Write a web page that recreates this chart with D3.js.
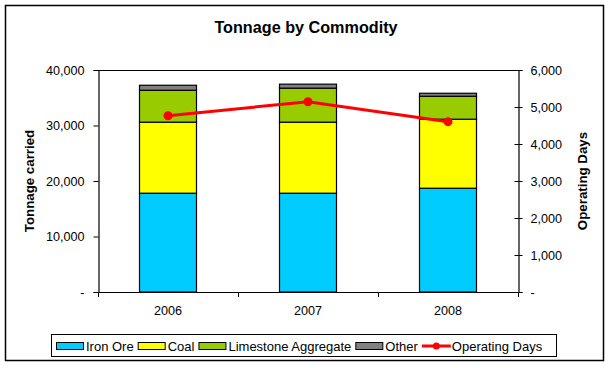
<!DOCTYPE html>
<html><head><meta charset="utf-8">
<script src="https://cdn.jsdelivr.net/npm/d3@7"></script>
<style>body{margin:0;background:#fff}svg{display:block}text{font-family:"Liberation Sans",Arial,sans-serif}</style>
</head><body><svg id="c" width="612" height="368"></svg>
<script>
const years = ["2006","2007","2008"];
const ironOre = [17800, 17800, 18700];
const coal = [12800, 12800, 12430];
const limestone = [5750, 6130, 4140];
const other = [900, 720, 540];
const operatingDays = [4765, 5143, 4603];
const leftTicks = [0,10000,20000,30000,40000];
const rightTicks = [0,1000,2000,3000,4000,5000,6000];
const seriesNames = ["Iron Ore","Coal","Limestone Aggregate","Other"];
const seriesColors = ["#00CCFF","#FFFF00","#99CC00","#808080"];

const svg = d3.select("#c");
const L=98,R=518,T=70,B=292;
svg.append("rect").attr("x",5.5).attr("y",5.5).attr("width",598).attr("height",355).attr("fill","#fff").attr("stroke","#000").attr("stroke-width",1.5);

svg.append("text").attr("x",306).attr("y",33).attr("text-anchor","middle").attr("font-weight","bold").attr("font-size",16.2).text("Tonnage by Commodity");

const x = d3.scaleBand().domain(years).range([L,R]).paddingInner(0.59).paddingOuter(0.295);
const y = d3.scaleLinear().domain([0,40000]).range([B,T]);
const y2 = d3.scaleLinear().domain([0,6000]).range([B,T]);

const fmt = v => v===0 ? "-" : d3.format(",")(v);

svg.append("line").attr("x1",L).attr("x2",R).attr("y1",T+0.5).attr("y2",T+0.5).attr("stroke","#000");

const rows = years.map((yr,i)=>({year:yr, "Iron Ore":ironOre[i], "Coal":coal[i], "Limestone Aggregate":limestone[i], "Other":other[i]}));
const stack = d3.stack().keys(seriesNames)(rows);
stack.forEach((s,k)=>{
  svg.append("g").selectAll("rect").data(s).join("rect")
    .attr("x",d=>Math.round(x(d.data.year))+0.5)
    .attr("y",d=>y(d[1]))
    .attr("width",Math.round(x.bandwidth()))
    .attr("height",d=>y(d[0])-y(d[1]))
    .attr("fill",seriesColors[k]).attr("stroke","#000").attr("stroke-width",1.2);
});

const gl = svg.append("g").attr("transform",`translate(${L+0.5},0)`)
  .call(d3.axisLeft(y).tickValues(leftTicks).tickFormat(fmt).tickSize(5).tickPadding(9));
const gr = svg.append("g").attr("transform",`translate(${R+0.5},0)`)
  .call(d3.axisRight(y2).tickValues(rightTicks).tickFormat(fmt).tickSize(4).tickPadding(8));
gr.selectAll(".tick line").attr("x1",-4);
const gb = svg.append("g").attr("transform",`translate(0,${B+0.5})`)
  .call(d3.axisBottom(x).tickSize(0).tickPadding(14));
[gl,gr,gb].forEach(g=>{
  g.select(".domain").attr("stroke","#000").attr("stroke-width",1.2);
  g.selectAll("text").attr("font-size",12.6).attr("font-family","'Liberation Sans',Arial,sans-serif").attr("fill","#000");
});
gb.select(".domain").attr("d",`M${L},0H${R}`);
const edges = [L, ...years.slice(1).map(yr=>x(yr)-x.step()*x.paddingInner()/2), R];
svg.append("g").selectAll("line").data(edges).join("line")
  .attr("x1",d=>Math.round(d)+0.5).attr("x2",d=>Math.round(d)+0.5).attr("y1",B).attr("y2",B+5).attr("stroke","#000");

svg.append("text").attr("transform","translate(34,181) rotate(-90)").attr("text-anchor","middle").attr("font-weight","bold").attr("font-size",13.3).text("Tonnage carried");
svg.append("text").attr("transform","translate(587,181) rotate(-90)").attr("text-anchor","middle").attr("font-weight","bold").attr("font-size",13.3).text("Operating Days");

const cx = yr => x(yr)+x.bandwidth()/2;
const line = d3.line().x((d,i)=>cx(years[i])).y(d=>y2(d));
svg.append("path").datum(operatingDays).attr("d",line).attr("fill","none").attr("stroke","#FF0000").attr("stroke-width",3);
svg.append("g").selectAll("circle").data(operatingDays).join("circle")
  .attr("cx",(d,i)=>cx(years[i])).attr("cy",d=>y2(d)).attr("r",4.5).attr("fill","#FF0000");

const lg = svg.append("g");
lg.append("rect").attr("x",51.5).attr("y",334.5).attr("width",505).attr("height",22).attr("fill","#fff").attr("stroke","#000");
const items = [...seriesNames.map((n,i)=>({n,c:seriesColors[i],t:"box"})),{n:"Operating Days",c:"#FF0000",t:"line"}];
let lx = 56;
items.forEach(it=>{
  if(it.t==="box"){
    lg.append("rect").attr("x",lx+0.5).attr("y",342.5).attr("width",27).attr("height",7).attr("fill",it.c).attr("stroke","#000");
  } else {
    lg.append("line").attr("x1",lx).attr("x2",lx+29).attr("y1",346).attr("y2",346).attr("stroke",it.c).attr("stroke-width",3);
    lg.append("circle").attr("cx",lx+14.5).attr("cy",346).attr("r",3.5).attr("fill",it.c);
  }
  const t = lg.append("text").attr("x",lx+30).attr("y",350.5).attr("font-size",13).text(it.n);
  lx += 30 + t.node().getComputedTextLength() + 4;
});
</script></body></html>
